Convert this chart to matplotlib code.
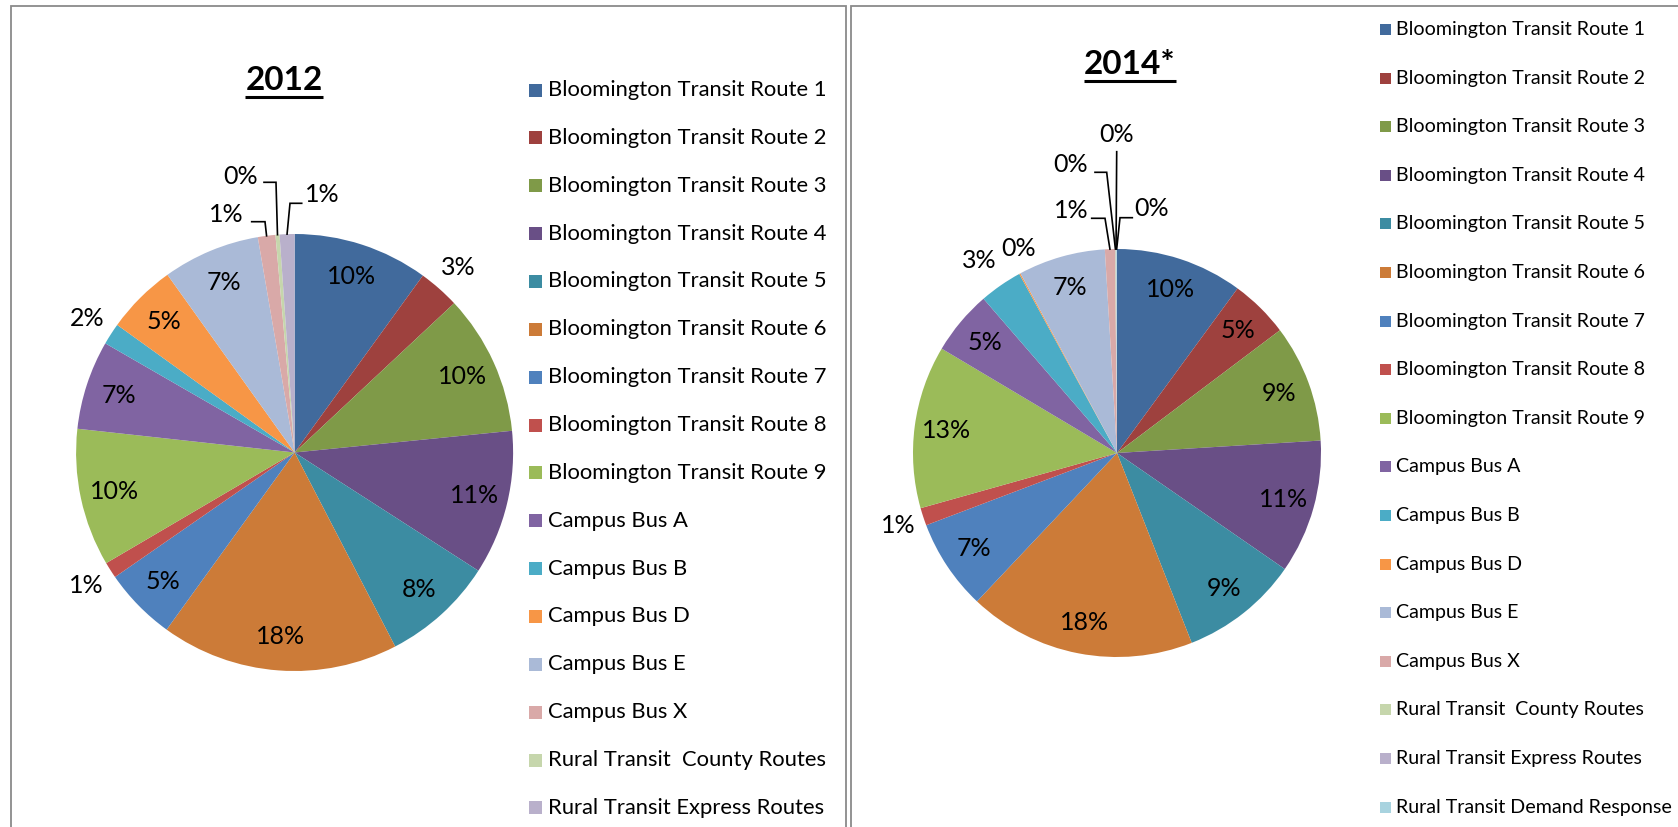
import matplotlib
matplotlib.use("Agg")
import matplotlib.pyplot as plt
from matplotlib.patches import Rectangle
import numpy as np

W, H = 1678, 827

# ---------------- data ----------------
categories = [
    "Bloomington Transit Route 1", "Bloomington Transit Route 2",
    "Bloomington Transit Route 3", "Bloomington Transit Route 4",
    "Bloomington Transit Route 5", "Bloomington Transit Route 6",
    "Bloomington Transit Route 7", "Bloomington Transit Route 8",
    "Bloomington Transit Route 9", "Campus Bus A", "Campus Bus B",
    "Campus Bus D", "Campus Bus E", "Campus Bus X",
    "Rural Transit  County Routes", "Rural Transit Express Routes",
    "Rural Transit Demand Response",
]
colors = [
    "#416A9C", "#9E413E", "#7F9A48", "#694F86", "#3C8CA2", "#CC7B38",
    "#4F81BD", "#C0504D", "#9BBB59", "#8064A2", "#4BACC6", "#F79646",
    "#AABAD7", "#D9A9A8", "#C6D6AC", "#B9B0CB", "#A8D3DF",
]
# share of ridership (%)
values_2012 = [10.0, 3.05, 10.4, 10.7, 8.3, 17.6, 5.4, 1.2, 10.2, 6.6, 1.6,
               5.2, 7.2, 1.3, 0.3, 1.1]
values_2014 = [10.06, 4.66, 9.3, 10.6, 9.4, 18.0, 7.2, 1.4, 12.9, 5.1, 3.4,
               0.1, 6.9, 0.8, 0.05, 0.05, 0.05]
title_2012 = "2012"
title_2014 = "2014*"

FONT = "Lato"
plt.rcParams["font.family"] = [FONT, "DejaVu Sans"]

fig = plt.figure(figsize=(W / 100, H / 100), dpi=100)
ax = fig.add_axes([0, 0, 1, 1])

# panel borders
bc = "#8a8a8a"
ax.plot([11, 11, 846, 846], [H, 5.5, 5.5, H], color=bc, lw=1.3, solid_joinstyle="miter")
ax.plot([851, 851, W + 5], [H, 5.5, 5.5], color=bc, lw=1.3, solid_joinstyle="miter")


def draw_chart(values, cx, cy, R, title, title_xy, underline_y, title_fs,
               leg_x, leg_y0, leg_dy, leg_sq, leg_fs, lab_fs,
               leaders, overrides):
    n = len(values)
    total = sum(values)
    wedges, _ = ax.pie(values, colors=colors[:n], center=(cx, cy), radius=R,
                       startangle=-90, counterclock=True,
                       wedgeprops=dict(linewidth=0), frame=True)
    for i, w in enumerate(wedges):
        pct = values[i] / total * 100
        txt = f"{pct:.0f}%"
        mid = np.deg2rad((w.theta1 + w.theta2) / 2)
        if i in leaders:
            tx, ty, lx0, ex, ey = leaders[i]
            px = cx + R * np.cos(mid)
            py = cy + R * np.sin(mid)
            ax.plot([lx0, ex, px], [ey, ey, py], color="black", lw=1.2,
                    solid_joinstyle="miter")
            ax.text(tx, ty, txt, ha="center", va="center", fontsize=lab_fs)
        elif i in overrides:
            tx, ty = overrides[i]
            ax.text(tx, ty, txt, ha="center", va="center", fontsize=lab_fs)
        elif pct >= 4:
            r = 0.845 * R
            ax.text(cx + r * np.cos(mid), cy + r * np.sin(mid), txt,
                    ha="center", va="center", fontsize=lab_fs)
        else:
            r = 1.13 * R
            ax.text(cx + r * np.cos(mid), cy + r * np.sin(mid), txt,
                    ha="center", va="center", fontsize=lab_fs)

    t = ax.text(title_xy[0], title_xy[1], title, ha="center", va="center",
                fontsize=title_fs, fontweight="bold")

    for i in range(n):
        yc = leg_y0 + i * leg_dy
        ax.add_patch(Rectangle((leg_x, yc - leg_sq / 2), leg_sq, leg_sq,
                               facecolor=colors[i], edgecolor="none"))
        ax.text(leg_x + leg_sq + 6, yc, categories[i], ha="left",
                va="center", fontsize=leg_fs)
    return t, underline_y


t1 = draw_chart(values_2012, 294.6, 452.5, 218.5, title_2012, (284, 80), 96.5, 24,
                528.5, 90, 47.86, 13, 15.8, 18,
                leaders={13: (226, 214, 251.7, 265, 221.7),
                         14: (241, 176, 264, 276, 182.3),
                         15: (322, 194, 301.7, 290, 203.3)},
                overrides={})
t2 = draw_chart(values_2014, 1117, 453, 204, title_2014, (1130, 64), 80.5, 24,
                1379.5, 29.5, 48.6, 11, 14.1, 18,
                leaders={13: (1071, 211, 1091.7, 1105, 218.3),
                         14: (1071, 164, 1095, 1106.7, 172.3),
                         15: (1117, 135, 1116.7, 1116.7, 151.7),
                         16: (1152, 209, 1132.3, 1120, 217.7)},
                overrides={10: (979, 260), 11: (1019, 248)})

ax.set_xlim(0, W)
ax.set_ylim(H, 0)
ax.set_aspect("equal")
ax.axis("off")

fig.canvas.draw()
inv = ax.transData.inverted()
for t, uy in (t1, t2):
    bb = t.get_window_extent()
    (x0, _), (x1, _) = inv.transform([(bb.x0, bb.y0), (bb.x1, bb.y1)])
    ax.plot([x0, x1], [uy, uy], color="black", lw=2.2, solid_capstyle="butt")

fig.savefig("out.png", dpi=100, facecolor="white")
